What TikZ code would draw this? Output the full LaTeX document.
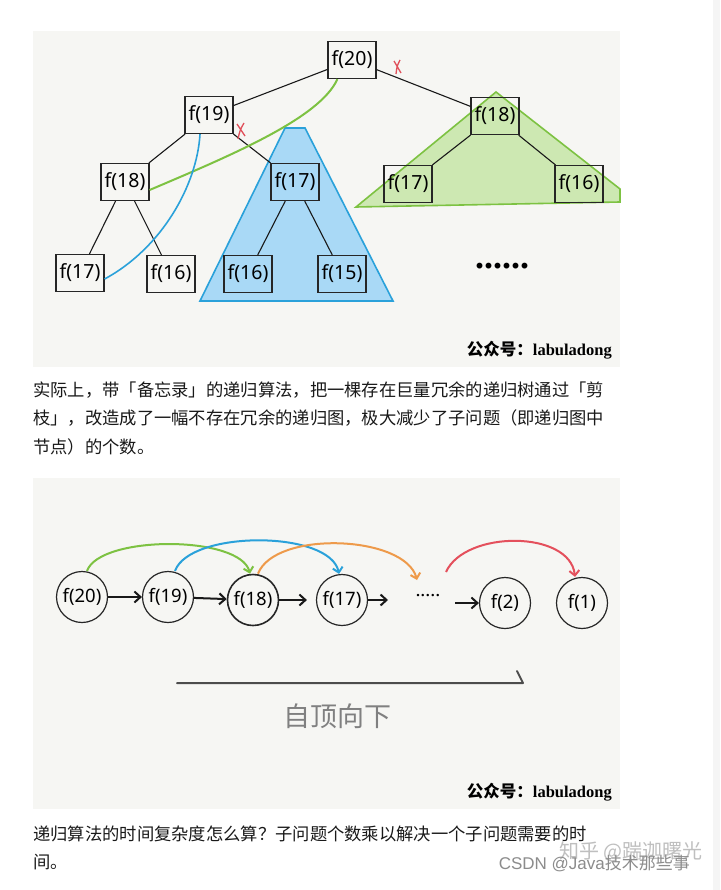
\documentclass[tikz,border=0pt]{standalone}
\usepackage{fontspec}
\setmainfont{Liberation Serif}
\setsansfont{Noto Sans}
\newfontfamily\cjk{Noto Sans CJK SC}
\newfontfamily\hand{Noto Sans}
\newfontfamily\wmfont{Liberation Sans}
\usetikzlibrary{arrows.meta,calc}
\definecolor{panel}{HTML}{F6F6F3}
\definecolor{gfill}{HTML}{CDE8B2}
\definecolor{gline}{HTML}{7DC242}
\definecolor{bfill}{HTML}{A9D9F6}
\definecolor{bline}{HTML}{2AA1DA}
\definecolor{oline}{HTML}{EE9A4A}
\definecolor{rline}{HTML}{E4505C}
\definecolor{xred}{HTML}{E0505A}
\tikzset{
  fbox/.style={draw=black!85, line width=1.2pt, minimum width=48pt, minimum height=37pt, inner sep=0pt, font=\hand\fontsize{19.5}{20}\selectfont},
  fcirc/.style={draw=black!85, line width=1.2pt, circle, minimum size=51pt, inner sep=0pt, font=\hand\fontsize{18.5}{19}\selectfont},
  tedge/.style={line width=1.1pt, black!90},
  harrow/.style={line width=2pt, black!90, -{Straight Barb[length=6pt,width=11pt]}},
  arc/.style={line width=2pt, -{Straight Barb[length=5pt,width=10pt]}},
  para/.style={anchor=west, inner sep=0pt, font=\cjk\fontsize{17.3}{18}\selectfont, text=black!90},
  sig/.style={anchor=east, inner sep=0pt, font=\fontsize{16.5}{17}\selectfont\bfseries},
}
\begin{document}
\begin{tikzpicture}[x=1pt,y=-1pt]
\useasboundingbox (0,0) rectangle (720,890);
\fill[white] (0,0) rectangle (720,890);
\fill[black!4] (713,0) rectangle (720,890);
% panels
\fill[panel] (33,31) rectangle (620,367);
\fill[panel] (33,478) rectangle (620,809);

% ---------- tree ----------
% triangles
\filldraw[fill=gfill, draw=gline, line width=1.6pt] (496,92) -- (620,189) -- (620,202) -- (356,207) -- cycle;
\filldraw[fill=bfill, draw=bline, line width=1.6pt] (285,128) -- (305,128) -- (393,301) -- (200,301) -- cycle;

\node[fbox] (a20) at (352,60) {f(20)};
\node[fbox] (a19) at (209,115) {f(19)};
\node[fbox] (a18r) at (495,116) {f(18)};
\node[fbox] (a18) at (125,182) {f(18)};
\node[fbox] (a17m) at (295,182) {f(17)};
\node[fbox] (a17r) at (408,184) {f(17)};
\node[fbox] (a16r) at (579,184) {f(16)};
\node[fbox] (a17) at (80,273) {f(17)};
\node[fbox] (a16) at (171,274) {f(16)};
\node[fbox] (a16b) at (248,274) {f(16)};
\node[fbox] (a15) at (342,274) {f(15)};
\node[font=\bfseries\fontsize{36}{36}\selectfont] (dots1) at (502,266) {......};

\draw[tedge] (a20) -- (a19);
\draw[tedge] (a20) -- (a18r);
\draw[tedge] (a19) -- (a18);
\draw[tedge] (a19) -- (a17m);
\draw[tedge] (a18) -- (a17);
\draw[tedge] (a18) -- (a16);
\draw[tedge] (a17m) -- (a16b);
\draw[tedge] (a17m) -- (a15);
\draw[tedge] (a18r) -- (a17r);
\draw[tedge] (a18r) -- (a16r);

% memo curves
\draw[gline, line width=2pt] ([xshift=10pt]a20.south west) .. controls (320,118) and (232,155) .. ([yshift=-8pt]a18.east);
\draw[bline, line width=1.6pt] ([xshift=-9pt]a19.south) .. controls (197,185) and (162,248) .. ([yshift=-6pt]a17.east);

% red cut marks
\draw[xred, line width=1.3pt] (394,61) -- (401,73) (400,60) .. controls (397,66) .. (396,74);
\draw[xred, line width=1.3pt] (237,124) -- (245,136) (244,123) .. controls (240,130) .. (238,139);

\node[sig] (sig1) at (612,350) {{\cjk 公众号：}labuladong};

% ---------- paragraph 1 ----------
\node[para] (p1) at (33,390) {实际上，带「备忘录」的递归算法，把一棵存在巨量冗余的递归树通过「剪};
\node[para] (p2) at (33,418) {枝」，改造成了一幅不存在冗余的递归图，极大减少了子问题（即递归图中};
\node[para] (p3) at (33,447) {节点）的个数。};

% ---------- chain ----------
\node[fcirc] (c20) at (82,597) {f(20)};
\node[fcirc] (c19) at (168,597) {f(19)};
\node[fcirc, line width=1.6pt, font=\hand\bfseries\fontsize{18.5}{19}\selectfont] (c18) at (253,600) {f(18)};
\node[fcirc] (c17) at (342,600) {f(17)};
\node[fcirc] (c2) at (505,603) {f(2)};
\node[fcirc] (c1) at (582,603) {f(1)};
\node[font=\bfseries\fontsize{15}{15}\selectfont] (cdots) at (428,597) {·····};
\coordinate (e17) at (388,600);
\coordinate (s2) at (455,603);
\coordinate (oend) at (417,580);
\coordinate (rstart) at (446,572);

\draw[harrow] (c20) -- (c19);
\draw[harrow] (c19) -- (c18);
\draw[harrow, shorten >=9pt] (c18) -- (c17);
\draw[harrow] (c17) -- (e17);
\draw[harrow] (s2) -- (c2);

\draw[arc, gline] ([xshift=5pt]c20.north) .. controls (100,535) and (240,535) .. ([xshift=-3pt]c18.north);
\draw[arc, bline] ([xshift=7pt]c19.north) .. controls (190,530) and (330,530) .. ([xshift=-3pt]c17.north);
\draw[arc, oline] ([xshift=5pt]c18.north) .. controls (275,530) and (405,535) .. (oend);
\draw[arc, rline] (rstart) .. controls (465,530) and (570,530) .. ([xshift=-7pt]c1.north);

% top-down arrow
\coordinate (td1) at (177,683);
\coordinate (td2) at (523,683);
\draw[black!70, line width=2pt, line cap=round, line join=round] (td1) -- (td2) -- ++(-6,-12);
\node[font=\cjk\fontsize{27}{28}\selectfont, text=black!50] (tdlabel) at (337,716) {自顶向下};

\node[sig] (sig2) at (612,792) {{\cjk 公众号：}labuladong};

% ---------- paragraph 2 ----------
\node[para] (q1) at (33,834) {递归算法的时间复杂度怎么算？子问题个数乘以解决一个子问题需要的时};
\node[para] (q2) at (33,862) {间。};

% watermark
\node[anchor=east, inner sep=0pt, font=\cjk\fontsize{20}{20}\selectfont, text=black!25] (wm2) at (703,852) {知乎 @踹迦曙光};
\node[anchor=east, inner sep=0pt, font=\fontsize{17}{18}\selectfont, text=black!45] (wm1) at (690,864) {{\wmfont CSDN @Java}{\cjk 技术那些事}};
\end{tikzpicture}
\end{document}
